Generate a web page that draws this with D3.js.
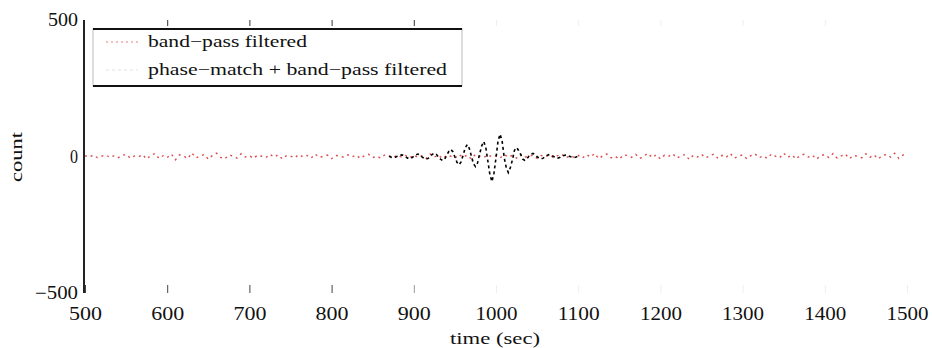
<!DOCTYPE html>
<html>
<head>
<meta charset="utf-8">
<script src="https://cdn.jsdelivr.net/npm/d3@7/dist/d3.min.js"></script>
<style>
  html, body { margin: 0; padding: 0; background: #fff; }
  svg { display: block; }
  text { font-family: "Liberation Serif", "Times New Roman", Times, serif; fill: #111; }
</style>
</head>
<body>
<svg id="chart" width="932" height="348"></svg>
<script>
// ---- data ----
const xTicks = [500, 600, 700, 800, 900, 1000, 1100, 1200, 1300, 1400, 1500];
const yTicks = [-500, 0, 500];
const seriesNames = ["band\u2212pass filtered", "phase\u2212match + band\u2212pass filtered"];
const xLabel = "time (sec)";
const yLabel = "count";

// band-pass filtered, sampled every 5 s from 500 to 1500
const redStart = 500, redStep = 5;
const redValues = [
  3, -2, 5, -4, 1, 6, -3, 2, -5, 4, 8, -6, 2, -1, 7, -9, 4, 11, -7, 3,
  -4, 9, -12, 6, 2, -8, 13, -5, 1, 7, -10, 4, 12, -3, -9, 5, 2, -6, 10, -2,
  3, -7, 5, 1, -4, 8, -2, 6, -9, 3, 2, -5, 7, -1, 4, -6, 9, -3, 1, 5,
  -8, 4, 2, -3, 6, -1, 5, -7, 3, 8, -4, 1, -6, 7, 2, -3, 5, -2, 4, -5,
  6, -4, 3, -7, 9, -2, 5, -8, 4, 1, -6, 7, -3, 5, -9, 8, 2, -4, 6, -1,
  3, -5, 7, -2, 4, -6, 8, -3, 2, 5, -7, 4, -1, 6, -4, 3, 9, -5, 2, -3,
  4, -6, 7, -2, 11, -8, 3, 9, -5, 1, -10, 6, 4, -3, 8, -7, 2, 12, -4, 6,
  -9, 5, 1, 10, -6, 3, 7, -11, 4, -2, 8, -5, 2, 9, -7, 4, -3, 11, -6, 1,
  6, -8, 3, 10, -4, 2, -7, 9, 1, -5, 12, -3, 6, -9, 4, 8, -2, 5, -10, 3,
  7, -4, 11, -6, 2, 9, -8, 4, 1, -5, 10, -3, 6, -9, 3, 8, -2, 12, -7, 5,
  14
];

// phase-match + band-pass filtered, sampled every 2.5 s from 870 to 1100
const blackStart = 870, blackStep = 2.5;
const blackValues = [
  1, -3, -4, -3, 1, 4, 6, 4, -1, -6, -8, -5, 1, 6, 9, 6, -1, -7, -10, -7,
  1, 8, 12, 8, -2, -10, -15, -10, 4, 18, 26, 18, -2, -21, -30, -20, 5, 31, 44, 30,
  2, -26, -37, -24, 8, 38, 55, 35, -15, -65, -92, -62, -5, 57, 82, 55, -4, -41, -59, -40,
  -12, 23, 33, 22, 8, -10, -14, -9, 1, 8, 11, 7, -1, -6, -9, -6, 0, 5, 7, 5,
  0, -4, -6, -4, 1, 4, 5, 3, 0, -3, -4, -2, 1
];

// ---- drawing ----
const svg = d3.select("#chart");
const x = d3.scaleLinear().domain([500, 1500]).range([85, 907]);
const y = d3.scaleLinear().domain([-500, 500]).range([293, 20]);

const redData = redValues.map((v, i) => ({ t: redStart + i * redStep, v }));
const blackData = blackValues.map((v, i) => ({ t: blackStart + i * blackStep, v }));

const line = d3.line().x(d => x(d.t)).y(d => y(d.v));

// red dotted series
svg.append("path")
  .datum(redData)
  .attr("d", line)
  .attr("fill", "none")
  .attr("stroke", "#d01010")
  .attr("stroke-opacity", 0.75)
  .attr("stroke-width", 1.4)
  .attr("stroke-dasharray", "2,4");

// black series
svg.append("path")
  .datum(blackData)
  .attr("d", line)
  .attr("fill", "none")
  .attr("stroke", "#000")
  .attr("stroke-width", 1.6)
  .attr("stroke-dasharray", "3,3");

// tick colour fades to the right as in the reference
const tickColor = v => v <= 800 ? "#444" : (v <= 900 ? "#999" : "#eee");

// bottom axis (ticks pointing inward)
const gx = svg.append("g")
  .attr("transform", `translate(0,${y(-500)})`)
  .call(d3.axisBottom(x).tickValues(xTicks).tickFormat(d3.format("d"))
    .tickSizeInner(-8).tickSizeOuter(0).tickPadding(14));
gx.select(".domain").remove();
gx.selectAll(".tick line").attr("stroke", d => tickColor(d)).attr("stroke-width", 1);
gx.selectAll(".tick text")
  .attr("font-size", 18)
  .attr("textLength", d => String(d).length === 4 ? 42 : 33)
  .attr("lengthAdjust", "spacingAndGlyphs")
  .attr("fill", "#111");

// top ticks
const gt = svg.append("g")
  .attr("transform", `translate(0,${y(500)})`)
  .call(d3.axisTop(x).tickValues(xTicks.filter(v => v > 500 && v < 1500)).tickSizeInner(-6).tickSizeOuter(0).tickFormat(""));
gt.select(".domain").remove();
gt.selectAll(".tick line").attr("stroke", d => d <= 900 ? "#333" : "#eee").attr("stroke-width", 1);

// left axis
const gy = svg.append("g")
  .attr("transform", `translate(84,0)`)
  .call(d3.axisLeft(y).tickValues(yTicks).tickSize(0).tickPadding(6).tickFormat(d => d < 0 ? "\u2212" + Math.abs(d) : String(d)));
gy.select(".domain").remove();
gy.selectAll(".tick text")
  .attr("font-size", 18)
  .attr("textLength", d => d < 0 ? 43 : (d === 0 ? 8 : 30))
  .attr("lengthAdjust", "spacingAndGlyphs")
  .attr("fill", "#111");

svg.append("line")
  .attr("x1", 84).attr("x2", 84)
  .attr("y1", y(500)).attr("y2", y(-500))
  .attr("stroke", "#222").attr("stroke-width", 2);

// axis labels
svg.append("text")
  .attr("x", 495).attr("y", 344)
  .attr("text-anchor", "middle")
  .attr("font-size", 17)
  .attr("textLength", 90)
  .attr("lengthAdjust", "spacingAndGlyphs")
  .text(xLabel);

svg.append("text")
  .attr("transform", `translate(22,157) rotate(-90)`)
  .attr("text-anchor", "middle")
  .attr("font-size", 17)
  .attr("textLength", 50)
  .attr("lengthAdjust", "spacingAndGlyphs")
  .text(yLabel);

// legend
const lg = svg.append("g");
lg.append("rect")
  .attr("x", 93).attr("y", 29).attr("width", 369).attr("height", 57)
  .attr("fill", "#fff").attr("stroke", "#bbb").attr("stroke-width", 1);
lg.append("line").attr("x1", 93).attr("x2", 462).attr("y1", 29).attr("y2", 29)
  .attr("stroke", "#111").attr("stroke-width", 2);
lg.append("line").attr("x1", 93).attr("x2", 462).attr("y1", 86).attr("y2", 86)
  .attr("stroke", "#111").attr("stroke-width", 2);

const legendStyles = [
  { color: "#d01010", opacity: 0.35, dash: "2,3", w: 1.3, tl: 159 },
  { color: "#000", opacity: 0.08, dash: "3,3", w: 1.3, tl: 299 }
];
seriesNames.forEach((name, i) => {
  const yy = 42 + i * 28;
  const s = legendStyles[i];
  lg.append("line")
    .attr("x1", 106).attr("x2", 138).attr("y1", yy).attr("y2", yy)
    .attr("stroke", s.color).attr("stroke-opacity", s.opacity)
    .attr("stroke-width", s.w).attr("stroke-dasharray", s.dash);
  lg.append("text")
    .attr("x", 148).attr("y", yy + 5)
    .attr("font-size", 17)
    .attr("textLength", s.tl)
    .attr("lengthAdjust", "spacingAndGlyphs")
    .text(name);
});
</script>
</body>
</html>
